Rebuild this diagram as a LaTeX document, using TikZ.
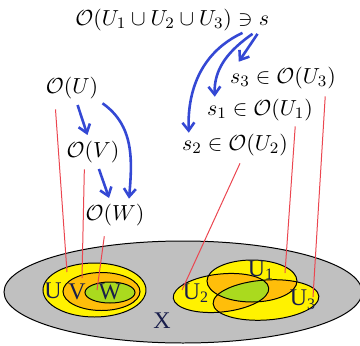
\documentclass[tikz,border=0pt]{standalone}
\usepackage{amsmath}
\usepackage{fontspec}
\newfontfamily\regionfont{Liberation Serif}
\usetikzlibrary{arrows.meta,positioning,calc}

\definecolor{spacegray}{RGB}{192,192,192}
\definecolor{openyellow}{RGB}{255,242,0}
\definecolor{openorange}{RGB}{255,190,10}
\definecolor{opengreen}{RGB}{170,218,30}
\definecolor{resblue}{RGB}{52,72,212}
\definecolor{pointred}{RGB}{235,70,80}
\definecolor{regionblue}{RGB}{25,30,75}

% the three covering opens
\newcommand{\openA}{(252,281) ellipse [x radius=45, y radius=21]}
\newcommand{\openB}{(221,293) ellipse [x radius=48, y radius=19, rotate=6]}
\newcommand{\openC}{(266,300) ellipse [x radius=53, y radius=20, rotate=4]}

\begin{document}
\begin{tikzpicture}[x=0.5bp, y=-0.5bp,
  sec/.style={font=\fontsize{11}{13}\selectfont, inner sep=0pt},
  res/.style={-{Straight Barb[length=4pt,width=6pt]}, resblue, line width=1.3pt},
  pointer/.style={pointred, line width=0.5pt},
  region/.style={font=\regionfont\fontsize{12}{14}\selectfont, text=regionblue, inner sep=0pt},
  rim/.style={line width=0.5pt}]
  \useasboundingbox (0,0) rectangle (360,346);

  % Space X
  \draw[rim, fill=spacegray] (183,292) ellipse [x radius=179, y radius=51];

  % Nested opens
  \draw[rim, fill=openyellow] (94.5,290) ellipse [x radius=51.5, y radius=27];
  \draw[rim, fill=openorange] (101.5,291.5) ellipse [x radius=38.5, y radius=19];
  \draw[rim, fill=opengreen] (110,292.5) ellipse [x radius=25, y radius=10.5];

  % Cover U1, U2, U3
  \fill[openyellow] \openA;
  \fill[openyellow] \openB;
  \fill[openyellow] \openC;
  \begin{scope}
    \clip \openA;
    \fill[openorange] \openB;
    \fill[openorange] \openC;
  \end{scope}
  \begin{scope}
    \clip \openB;
    \fill[openorange] \openC;
  \end{scope}
  \begin{scope}
    \clip \openA;
    \clip \openB;
    \fill[opengreen] \openC;
  \end{scope}
  \draw[rim] \openA;
  \draw[rim] \openB;
  \draw[rim] \openC;

  % Region labels
  \node[region] (lU) at (53,291) {U};
  \node[region] (lV) at (77,292) {V};
  \node[region] (lW) at (110,292) {W};
  \node[region] (lX) at (162,321) {X};
  \node[region] (lU1) at (261,270) {U\textsubscript{1}};
  \node[region] (lU2) at (196,293) {U\textsubscript{2}};
  \node[region] (lU3) at (303,300) {U\textsubscript{3}};

  % Sections
  \node[sec] (oall) at (164,20) {$\mathcal{O}(U_1\cup U_2\cup U_3)\ni$};
  \node[sec, anchor=base west] (s) at ([xshift=2.8pt]oall.base east) {$s$};
  \node[sec] (s3) at (283,78) {$s_3\in\mathcal{O}(U_3)$};
  \node[sec] (s1) at (260,110) {$s_1\in\mathcal{O}(U_1)$};
  \node[sec] (s2) at (235,145) {$s_2\in\mathcal{O}(U_2)$};
  \node[sec] (ou) at (72,88) {$\mathcal{O}(U)$};
  \node[sec] (ov) at (93,152) {$\mathcal{O}(V)$};
  \node[sec] (ow) at (115,215) {$\mathcal{O}(W)$};

  % Restrictions
  \draw[res, shorten <=3bp, shorten >=3bp] (ou) -- (ov);
  \draw[res, shorten <=3bp, shorten >=3bp] (ov) -- (ow);
  \draw[res] ([shift={(2bp,-2bp)}]ou.south east) to[out=-35,in=85] ([xshift=7bp,yshift=2.5bp]ow.north);
  \draw[res] ([xshift=-0.5bp,yshift=-4bp]s.south west) -- ([xshift=4.5bp,yshift=2.5bp]s3.north west);
  \draw[res] ([xshift=-3bp,yshift=-4bp]s.south west) to[out=-145,in=92] ([xshift=4bp,yshift=1bp]s1.north west);
  \draw[res] ([xshift=-8bp,yshift=-3.5bp]s.south west) to[out=-155,in=92] ([xshift=3.5bp,yshift=0.5bp]s2.north west);

  % Where each section lives
  \coordinate (pU) at (67,272);
  \coordinate (pV) at (82,278);
  \coordinate (pW) at (97,290);
  \coordinate (pU1) at (285,273);
  \coordinate (pU2) at (182,290);
  \coordinate (pU3) at (313,297);
  \draw[pointer] ([xshift=5bp,yshift=-5bp]ou.south west) -- (pU);
  \draw[pointer] ([xshift=9bp,yshift=-3bp]ov.south west) -- (pV);
  \draw[pointer] ([xshift=9.5bp,yshift=-5bp]ow.south west) -- (pW);
  \draw[pointer] ([xshift=-9bp,yshift=-2.5bp]s1.south east) -- (pU1);
  \draw[pointer] ([xshift=2.5bp,yshift=-3.5bp]s2.south) -- (pU2);
  \draw[pointer] ([xshift=-5.5bp,yshift=-3.5bp]s3.south east) -- (pU3);
\end{tikzpicture}
\end{document}
